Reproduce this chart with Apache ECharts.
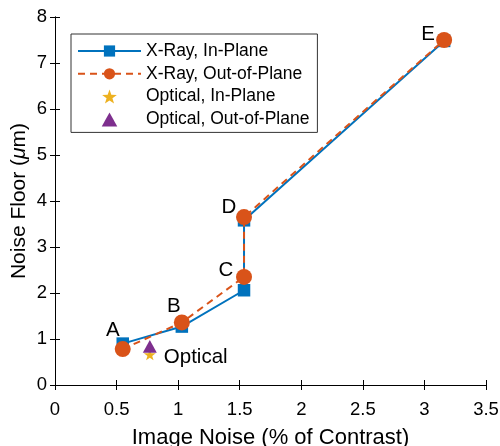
<!DOCTYPE html>
<html>
<head>
<meta charset="utf-8">
<script src="https://cdn.jsdelivr.net/npm/echarts@6/dist/echarts.min.js"></script>
<style>
html,body{margin:0;padding:0;background:#fff;}
#chart{width:500px;height:446px;}
</style>
</head>
<body>
<div id="chart"></div>
<script>
// Noise floor versus image noise for each configuration A–E
const xrayInX = [0.55, 1.03, 1.535, 1.535, 3.16];
const xrayInY = [0.90, 1.27, 2.06, 3.58, 7.48];
const xrayOutX = [0.55, 1.03, 1.535, 1.535, 3.16];
const xrayOutY = [0.78, 1.36, 2.35, 3.65, 7.50];
const pointNames = ['A', 'B', 'C', 'D', 'E'];
const opticalInX = [0.77];
const opticalInY = [0.66];
const opticalOutX = [0.77];
const opticalOutY = [0.84];
const xTicks = [0, 0.5, 1, 1.5, 2, 2.5, 3, 3.5];
const yTicks = [0, 1, 2, 3, 4, 5, 6, 7, 8];

const FONT = 'Liberation Sans, Arial, Helvetica, sans-serif';
const BLUE = '#0072BD', ORANGE = '#D95319', YELLOW = '#EDB120', PURPLE = '#7E2F8E';

// label placement for each point name (offsets from the circle marker)
const labelOffsets = [[-10, -19], [-8, -16], [-18, -7], [-15, -10], [-16, -6]];

const pairs = (xs, ys) => xs.map((x, i) => [x, ys[i]]);

const outData = pairs(xrayOutX, xrayOutY).map((p, i) => ({
  value: p,
  label: {
    show: true,
    formatter: pointNames[i],
    position: 'inside',
    offset: labelOffsets[i],
    color: '#000',
    fontSize: 20.5,
    fontFamily: FONT
  }
}));

const STAR = 'path://M0,-10 L2.35,-3.24 L9.51,-3.09 L3.8,1.24 L5.88,8.09 L0,4 L-5.88,8.09 L-3.8,1.24 L-9.51,-3.09 L-2.35,-3.24 Z';
const TRIANGLE = 'path://M0,-10 L10,8 L-10,8 Z';

const axisLine = { show: true, lineStyle: { color: '#000', width: 1 } };
const axisTick = { show: true, inside: true, length: 5, lineStyle: { color: '#000' } };

const chart = echarts.init(document.getElementById('chart'), null, { renderer: 'canvas' });
chart.setOption({
  animation: false,
  backgroundColor: '#fff',
  grid: { left: 55, right: 14, top: 17, bottom: 61, containLabel: false, outerBoundsMode: 'none' },
  legend: {
    orient: 'vertical',
    left: 71,
    top: 34,
    padding: [8, 8, 4, 6],
    itemGap: 4.8,
    itemWidth: 63,
    itemHeight: 14,
    borderColor: '#333',
    borderWidth: 1,
    backgroundColor: '#fff',
    textStyle: { fontFamily: FONT, fontSize: 17.5, color: '#000' },
    data: ['X-Ray, In-Plane', 'X-Ray, Out-of-Plane', 'Optical, In-Plane', 'Optical, Out-of-Plane']
  },
  xAxis: [{
    type: 'value', min: xTicks[0], max: xTicks[xTicks.length - 1], interval: 0.5,
    position: 'bottom',
    axisLine, axisTick,
    splitLine: { show: false },
    axisLabel: { color: '#000', fontSize: 18.5, fontFamily: FONT, margin: 15,
      formatter: v => String(v) },
    name: 'Image Noise (% of Contrast)',
    nameLocation: 'middle',
    nameGap: 42,
    nameMoveOverlap: false,
    nameTextStyle: { color: '#000', fontSize: 22, fontFamily: FONT }
  }, {
    type: 'value', min: xTicks[0], max: xTicks[xTicks.length - 1], interval: 0.5,
    position: 'top',
    axisLine, axisTick,
    splitLine: { show: false },
    axisLabel: { show: false }
  }],
  yAxis: [{
    type: 'value', min: yTicks[0], max: yTicks[yTicks.length - 1], interval: 1,
    position: 'left',
    axisLine, axisTick,
    splitLine: { show: false },
    axisLabel: { color: '#000', fontSize: 18.5, fontFamily: FONT, margin: 8 },
    name: '{a|Noise Floor (}{i|μ}{a|m)}',
    nameLocation: 'middle',
    nameRotate: 90,
    nameGap: 25,
    nameMoveOverlap: false,
    nameTextStyle: {
      rich: {
        a: { color: '#000', fontSize: 21, fontFamily: FONT },
        i: { color: '#000', fontSize: 21, fontFamily: FONT, fontStyle: 'italic' }
      }
    }
  }, {
    type: 'value', min: yTicks[0], max: yTicks[yTicks.length - 1], interval: 1,
    position: 'right',
    axisLine, axisTick,
    splitLine: { show: false },
    axisLabel: { show: false }
  }],
  series: [{
    name: 'X-Ray, In-Plane',
    type: 'line',
    data: pairs(xrayInX, xrayInY),
    symbol: 'rect',
    symbolSize: 12.5,
    showAllSymbol: true,
    lineStyle: { color: BLUE, width: 2 },
    itemStyle: { color: BLUE, opacity: 1 },
    z: 2
  }, {
    name: 'X-Ray, Out-of-Plane',
    type: 'line',
    data: outData,
    symbol: 'circle',
    symbolSize: 16,
    showAllSymbol: true,
    lineStyle: { color: ORANGE, width: 2, type: [7, 5] },
    itemStyle: { color: ORANGE, opacity: 1 },
    z: 3
  }, {
    name: 'Optical, In-Plane',
    type: 'scatter',
    data: pairs(opticalInX, opticalInY),
    symbol: STAR,
    symbolKeepAspect: true,
    symbolSize: 12,
    itemStyle: { color: YELLOW, opacity: 1 },
    label: {
      show: true, formatter: 'Optical', position: 'right', offset: [3, 3],
      color: '#000', fontSize: 20.5, fontFamily: FONT
    },
    z: 4
  }, {
    name: 'Optical, Out-of-Plane',
    type: 'scatter',
    data: pairs(opticalOutX, opticalOutY),
    symbol: TRIANGLE,
    symbolKeepAspect: true,
    symbolSize: 14,
    itemStyle: { color: PURPLE, opacity: 1 },
    z: 5
  }]
});
</script>
</body>
</html>
